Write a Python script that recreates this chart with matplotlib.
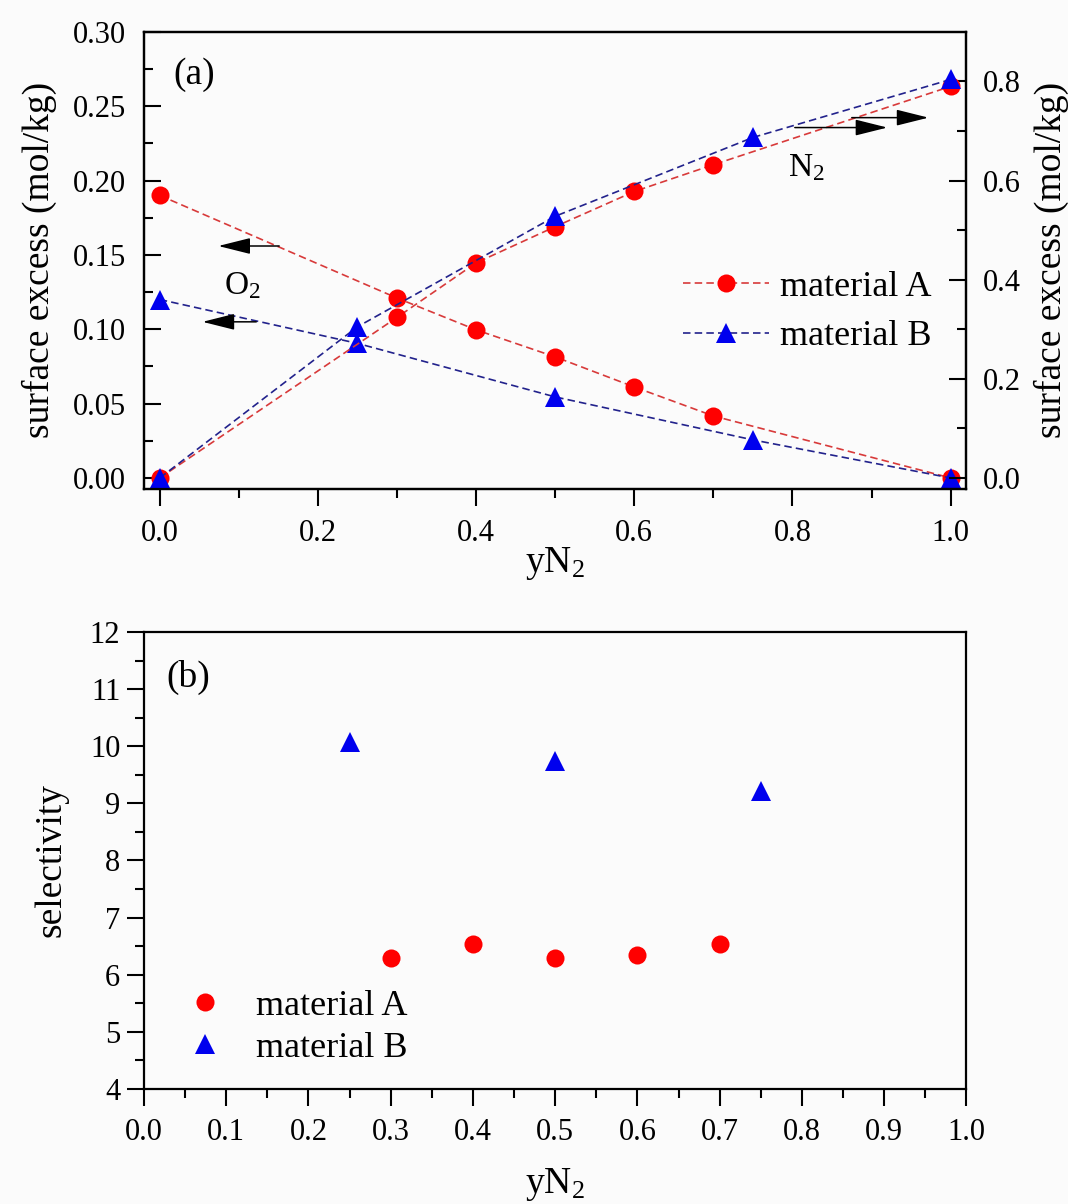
import numpy as np
import matplotlib
matplotlib.use("Agg")
import matplotlib.pyplot as plt
from matplotlib.ticker import MultipleLocator, FormatStrFormatter

plt.rcParams["font.family"] = ["Liberation Serif", "DejaVu Serif"]
plt.rcParams["mathtext.fontset"] = "custom"
plt.rcParams["mathtext.rm"] = "Liberation Serif"

# --- panel (a): surface excess vs yN2 ---
xA = [0.0, 0.3, 0.4, 0.5, 0.6, 0.7, 1.0]
o2_A = [0.190, 0.121, 0.0996, 0.0814, 0.0612, 0.0417, 0.0]      # left axis
n2_A = [0.0, 0.324, 0.434, 0.507, 0.578, 0.632, 0.790]          # right axis

xB = [0.0, 0.25, 0.5, 0.75, 1.0]
o2_B = [0.120, 0.0905, 0.0545, 0.0256, 0.0]
n2_B = [0.0, 0.305, 0.528, 0.687, 0.804]

# --- panel (b): selectivity ---
sel_xA = [0.3, 0.4, 0.5, 0.6, 0.7]
sel_A = [6.29, 6.53, 6.29, 6.35, 6.53]
sel_xB = [0.25, 0.5, 0.75]
sel_B = [10.08, 9.75, 9.22]

RED = "#ff0000"
BLUE = "#0000ee"
RED_LINE = "#d83a3a"
BLUE_LINE = "#22228c"
BG = "#fbfbfb"

TICK_FS = 22
LABEL_FS = 27
LEG_FS = 26

fig = plt.figure(figsize=(10.68, 12.04), dpi=100, facecolor=BG)

# ─────────────── panel (a) ───────────────
ax = fig.add_axes([0.1348, 0.5939, 0.7701, 0.3796], facecolor=BG)
ax2 = ax.twinx()

line_kw = dict(ls="--", lw=1.2, dashes=(4.5, 2.5), markeredgewidth=0)
hA, = ax.plot(xA, o2_A, color=RED_LINE, marker="o", ms=13, mfc=RED, label="material A", **line_kw)
hB, = ax.plot(xB, o2_B, color=BLUE_LINE, marker="^", ms=15, mfc=BLUE, label="material B", **line_kw)
ax2.plot(xA, n2_A, color=RED_LINE, marker="o", ms=13, mfc=RED, **line_kw)
ax2.plot(xB, n2_B, color=BLUE_LINE, marker="^", ms=15, mfc=BLUE, **line_kw)

ax.set_xlim(-0.02, 1.02)
ax.set_ylim(-0.0074, 0.30)
ax2.set_ylim(-0.0222, 0.90)

ax.xaxis.set_major_locator(MultipleLocator(0.2))
ax.xaxis.set_minor_locator(MultipleLocator(0.1))
ax.xaxis.set_major_formatter(FormatStrFormatter("%.1f"))
ax.yaxis.set_major_locator(MultipleLocator(0.05))
ax.yaxis.set_minor_locator(MultipleLocator(0.025))
ax.yaxis.set_major_formatter(FormatStrFormatter("%.2f"))
ax2.set_yticks([0.0, 0.2, 0.4, 0.6, 0.8])
ax2.set_yticks(np.arange(0.1, 0.9, 0.2), minor=True)
ax2.yaxis.set_major_formatter(FormatStrFormatter("%.1f"))

ax.tick_params(axis="x", which="both", direction="out", width=1.5, labelsize=TICK_FS, pad=10)
ax.tick_params(axis="x", which="major", length=12)
ax.tick_params(axis="x", which="minor", length=6.5)
ax.tick_params(axis="y", which="both", direction="in", width=1.5, labelsize=TICK_FS, pad=13, right=False)
ax.tick_params(axis="y", which="major", length=12)
ax.tick_params(axis="y", which="minor", length=6.5)
ax2.tick_params(axis="y", which="both", direction="in", width=1.5, labelsize=TICK_FS, pad=12, left=False)
ax2.tick_params(axis="y", which="major", length=12)
ax2.tick_params(axis="y", which="minor", length=6.5)

for a in (ax, ax2):
    for s in a.spines.values():
        s.set_linewidth(1.6)

ax.set_xlabel(r"y$\mathregular{N_2}$", fontsize=LABEL_FS)
ax.xaxis.set_label_coords(0.5, -0.122)
ax.set_ylabel("surface excess (mol/kg)", fontsize=LABEL_FS)
ax.yaxis.set_label_coords(-0.106, 0.5)
ax2.set_ylabel("surface excess (mol/kg)", fontsize=LABEL_FS, rotation=90)
ax2.yaxis.set_label_coords(1.082, 0.5)

ax.text(0.061, 0.906, "(a)", transform=ax.transAxes, fontsize=LABEL_FS, va="center", ha="center")

arrow_kw = dict(arrowstyle="-|>,head_length=0.8,head_width=0.2", color="k", lw=1.1,
                mutation_scale=25, shrinkA=0, shrinkB=0)
ax.annotate("", xy=(0.074, 0.156), xytext=(0.151, 0.156), arrowprops=arrow_kw)
ax.annotate("", xy=(0.054, 0.105), xytext=(0.122, 0.105), arrowprops=arrow_kw)
ax.text(0.104, 0.129, r"O$\mathregular{_2}$", fontsize=LABEL_FS - 3, ha="center", va="center")
ax2.annotate("", xy=(0.920, 0.707), xytext=(0.803, 0.707), arrowprops=arrow_kw)
ax2.annotate("", xy=(0.972, 0.727), xytext=(0.875, 0.727), arrowprops=arrow_kw)
ax2.text(0.818, 0.626, r"N$\mathregular{_2}$", fontsize=LABEL_FS - 3, ha="center", va="center")

ax2.legend(handles=[hA, hB], loc="upper left", bbox_to_anchor=(0.655, 0.478),
           frameon=False, fontsize=LEG_FS, handlelength=2.4, handletextpad=0.3,
           labelspacing=0.45, borderpad=0, borderaxespad=0)

# ─────────────── panel (b) ───────────────
bx = fig.add_axes([0.1348, 0.0955, 0.7701, 0.3796], facecolor=BG)
bx.plot(sel_xA, sel_A, ls="none", marker="o", ms=13, color=RED, mew=0, label="material A")
bx.plot(sel_xB, sel_B, ls="none", marker="^", ms=15, color=BLUE, mew=0, label="material B")

bx.set_xlim(0, 1.0)
bx.set_ylim(4, 12)
bx.xaxis.set_major_locator(MultipleLocator(0.1))
bx.xaxis.set_minor_locator(MultipleLocator(0.05))
bx.xaxis.set_major_formatter(FormatStrFormatter("%.1f"))
bx.yaxis.set_major_locator(MultipleLocator(1))
bx.yaxis.set_minor_locator(MultipleLocator(0.5))

bx.tick_params(which="both", direction="out", width=1.5, labelsize=TICK_FS, pad=5)
bx.tick_params(axis="x", which="both", pad=9)
bx.tick_params(which="major", length=12)
bx.tick_params(which="minor", length=6.5)
for s in bx.spines.values():
    s.set_linewidth(1.6)

bx.set_xlabel(r"y$\mathregular{N_2}$", fontsize=LABEL_FS)
bx.xaxis.set_label_coords(0.5, -0.169)
bx.set_ylabel("selectivity", fontsize=LABEL_FS)
bx.yaxis.set_label_coords(-0.092, 0.5)
bx.text(0.054, 0.90, "(b)", transform=bx.transAxes, fontsize=LABEL_FS, va="center", ha="center")

bx.legend(loc="upper left", bbox_to_anchor=(0.035, 0.218), frameon=False, fontsize=LEG_FS,
          handlelength=1.8, handletextpad=0.5, labelspacing=0.25, borderpad=0, borderaxespad=0,
          numpoints=1)

fig.savefig("out.png", dpi=100, facecolor=BG)
